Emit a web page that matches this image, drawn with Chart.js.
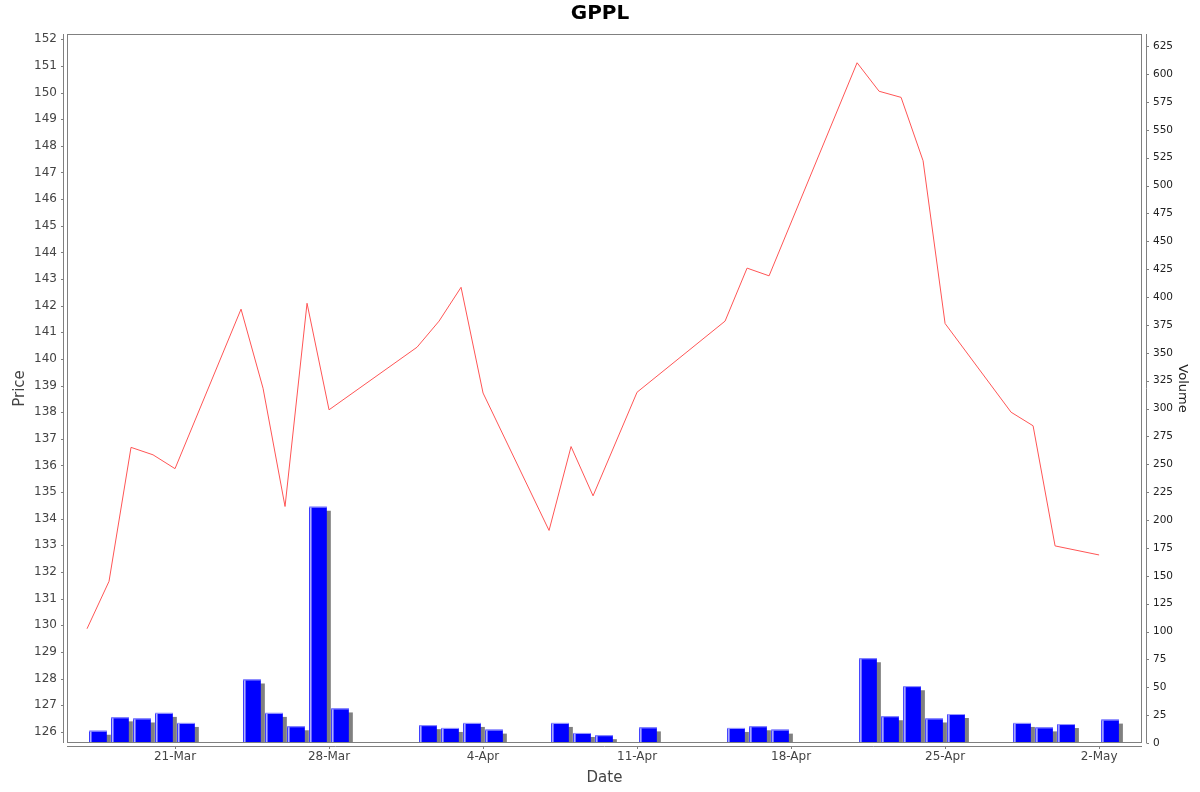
<!DOCTYPE html>
<html>
<head>
<meta charset="utf-8">
<title>GPPL</title>
<script src="https://cdn.jsdelivr.net/npm/chart.js@4.4.1/dist/chart.umd.min.js"></script>
<style>
  html, body { margin: 0; padding: 0; background: #fff; }
</style>
</head>
<body>
<canvas id="gppl-chart" width="1200" height="792"></canvas>
<script>
// Trading days (missing days are market holidays / weekends)
const dates = [
  '2025-03-17', '2025-03-18', '2025-03-19', '2025-03-20', '2025-03-21',
  '2025-03-24', '2025-03-25', '2025-03-26', '2025-03-27', '2025-03-28',
  '2025-04-01', '2025-04-02', '2025-04-03', '2025-04-04',
  '2025-04-07', '2025-04-08', '2025-04-09', '2025-04-11',
  '2025-04-15', '2025-04-16', '2025-04-17',
  '2025-04-21', '2025-04-22', '2025-04-23', '2025-04-24', '2025-04-25',
  '2025-04-28', '2025-04-29', '2025-04-30', '2025-05-02'
];

// Closing price
const prices = [
  129.87, 131.65, 136.68, 136.40, 135.88,
  141.87, 138.90, 134.46, 142.09, 138.09,
  140.44, 141.42, 142.69, 138.72,
  133.56, 136.71, 134.86, 138.75,
  141.42, 143.41, 143.12,
  151.12, 150.05, 149.82, 147.44, 141.33,
  138.00, 137.49, 132.98, 132.64
];

// Volume
const volumes = [
  11, 23, 22, 27, 18,
  57, 27, 15, 212, 31,
  16, 13.5, 18, 12,
  18, 9, 7, 14,
  13.5, 15, 12,
  76, 24, 51, 22, 26,
  18, 14, 17, 21
];

// x axis ticks
const tickDates = ['2025-03-21', '2025-03-28', '2025-04-04', '2025-04-11', '2025-04-18', '2025-04-25', '2025-05-02'];
const tickLabels = ['21-Mar', '28-Mar', '4-Apr', '11-Apr', '18-Apr', '25-Apr', '2-May'];

// days counted from 14-Mar
function dayOf(d) {
  return (Date.parse(d) - Date.parse('2025-03-14')) / 86400000;
}

const font = 'DejaVu Sans';
const axisGray = '#808080';

// JFreeChart look: bar shadows, highlight stripe, offset axis lines
const plotFrame = {
  id: 'plotFrame',
  beforeDatasetDraw(chart, args) {
    if (args.meta.type !== 'bar') return;
    const ctx = chart.ctx;
    ctx.shadowColor = '#808080';
    ctx.shadowOffsetX = 4;
    ctx.shadowOffsetY = 4;
    ctx.shadowBlur = 0;
  },
  afterDatasetDraw(chart, args) {
    if (args.meta.type !== 'bar') return;
    const ctx = chart.ctx;
    ctx.shadowColor = 'rgba(0,0,0,0)';
    ctx.shadowOffsetX = 0;
    ctx.shadowOffsetY = 0;
    ctx.save();
    args.meta.data.forEach(bar => {
      const p = bar.getProps(['x', 'y', 'base', 'width'], true);
      const left = p.x - p.width / 2;
      ctx.fillStyle = '#9a9aff';
      ctx.fillRect(left, p.y, p.width, 1);
      ctx.fillStyle = 'rgba(255,255,255,0.9)';
      ctx.fillRect(left + 1, p.y + 1, 1.2, p.base - p.y - 1);
    });
    ctx.restore();
  },
  afterDraw(chart) {
    const ctx = chart.ctx;
    const a = chart.chartArea;
    ctx.save();
    ctx.strokeStyle = axisGray;
    ctx.lineWidth = 1;
    // plot outline
    ctx.strokeRect(a.left + 0.5, a.top + 0.5, a.right - a.left - 1, a.bottom - a.top - 1);

    ctx.beginPath();
    // left axis
    ctx.moveTo(a.left - 3.5, a.top);
    ctx.lineTo(a.left - 3.5, a.bottom);
    chart.scales.y.ticks.forEach(t => {
      const py = Math.round(chart.scales.y.getPixelForValue(t.value)) + 0.5;
      ctx.moveTo(a.left - 6, py);
      ctx.lineTo(a.left - 3.5, py);
    });
    // right axis
    ctx.moveTo(a.right + 4.5, a.top);
    ctx.lineTo(a.right + 4.5, a.bottom);
    chart.scales.y1.ticks.forEach(t => {
      const py = Math.round(chart.scales.y1.getPixelForValue(t.value)) + 0.5;
      ctx.moveTo(a.right + 4.5, py);
      ctx.lineTo(a.right + 7, py);
    });
    // bottom axis
    ctx.moveTo(a.left, a.bottom + 3.5);
    ctx.lineTo(a.right, a.bottom + 3.5);
    chart.scales.x.ticks.forEach(t => {
      const px = Math.round(chart.scales.x.getPixelForValue(t.value)) + 0.5;
      ctx.moveTo(px, a.bottom + 3.5);
      ctx.lineTo(px, a.bottom + 6);
    });
    ctx.stroke();
    ctx.restore();
  }
};

const chart = new Chart('gppl-chart', {
  type: 'bar',
  data: {
    datasets: [
      {
        type: 'line',
        label: 'Price',
        data: dates.map((d, i) => ({ x: dayOf(d), y: prices[i] })),
        yAxisID: 'y',
        borderColor: '#ff5555',
        borderWidth: 1,
        pointRadius: 0,
        tension: 0,
        fill: false
      },
      {
        type: 'bar',
        label: 'Volume',
        data: dates.map((d, i) => ({ x: dayOf(d) + 0.5, y: volumes[i] })),
        yAxisID: 'y1',
        backgroundColor: '#0000ff',
        borderWidth: 0,
        barPercentage: 0.8,
        categoryPercentage: 1.0
      }
    ]
  },
  options: {
    responsive: false,
    devicePixelRatio: 1,
    animation: false,
    layout: { padding: 0 },
    plugins: {
      legend: { display: false },
      tooltip: { enabled: false },
      title: {
        display: true,
        text: 'GPPL',
        color: '#000',
        font: { family: font, size: 20, weight: 'bold' },
        padding: { top: 1.5, bottom: 8.5 }
      }
    },
    scales: {
      x: {
        type: 'linear',
        position: 'bottom',
        offset: false,
        min: 2.09,
        max: 50.95,
        grid: { display: false, drawTicks: false, offset: false },
        border: { display: false },
        afterBuildTicks: scale => {
          scale.ticks = tickDates.map(d => ({ value: dayOf(d) }));
        },
        afterFit: scale => { scale.height = 49; },
        ticks: {
          autoSkip: false,
          maxRotation: 0,
          padding: 7,
          color: '#444',
          font: { family: font, size: 12 },
          callback: (value, index) => tickLabels[index]
        },
        title: {
          display: true,
          text: 'Date',
          color: '#444',
          font: { family: font, size: 15 },
          padding: { top: 0, bottom: 5 }
        }
      },
      y: {
        position: 'left',
        min: 125.58,
        max: 152.2,
        grid: { display: false, drawTicks: false },
        border: { display: false },
        afterFit: scale => { scale.width = 67; },
        ticks: {
          stepSize: 1,
          includeBounds: false,
          autoSkip: false,
          padding: 10,
          color: '#444',
          font: { family: font, size: 12 }
        },
        title: {
          display: true,
          text: 'Price',
          color: '#444',
          font: { family: font, size: 15 },
          padding: { top: 11, bottom: 0 }
        }
      },
      y1: {
        position: 'right',
        min: 0,
        max: 636,
        grid: { display: false, drawTicks: false },
        border: { display: false },
        afterFit: scale => { scale.width = 58; },
        ticks: {
          stepSize: 25,
          includeBounds: false,
          autoSkip: false,
          padding: 11,
          color: '#222',
          font: { family: font, size: 10.5 }
        },
        title: {
          display: true,
          text: 'Volume',
          color: '#222',
          font: { family: font, size: 13 },
          padding: { top: 10, bottom: 0 }
        }
      }
    }
  },
  plugins: [plotFrame]
});
</script>
</body>
</html>
